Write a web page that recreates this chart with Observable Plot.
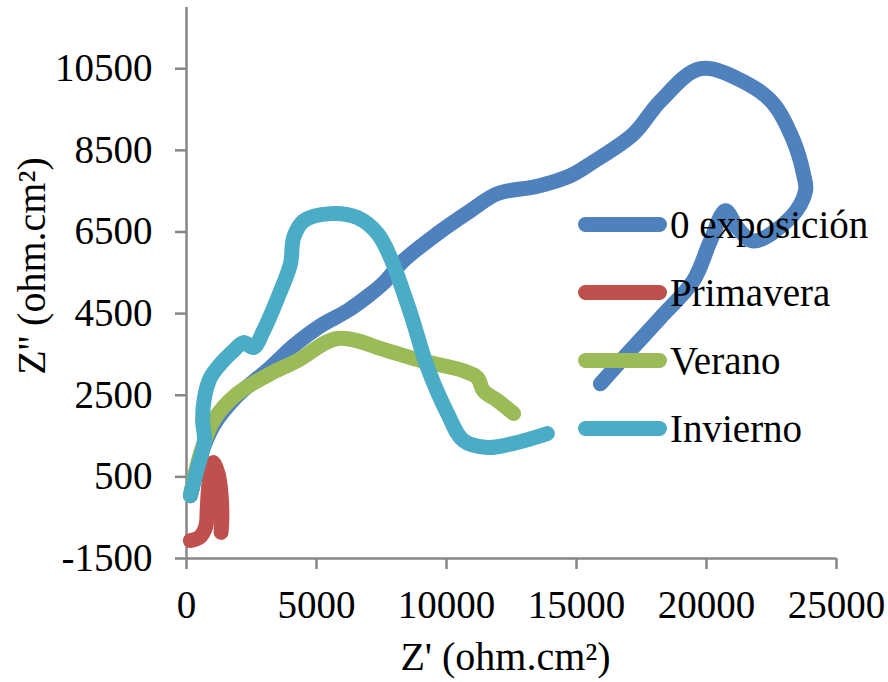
<!DOCTYPE html>
<html>
<head>
<meta charset="utf-8">
<script src="https://cdn.jsdelivr.net/npm/d3@7"></script>
<script src="https://cdn.jsdelivr.net/npm/@observablehq/plot@0.6"></script>
<style>
  html, body { margin: 0; padding: 0; background: #fff; }
  #wrap { position: relative; width: 888px; height: 682px; font-family: "Liberation Serif", "Times New Roman", serif; }
  #legend { position: absolute; left: 578px; top: 190px; }
  .row { display: flex; align-items: center; height: 68px; }
  .sw { width: 89px; height: 15px; border-radius: 7.5px; margin-right: 3px; }
  .lab { font-size: 39px; color: #000; line-height: 1; white-space: nowrap; }
</style>
</head>
<body>
<div id="wrap"></div>
<script>
// Series names and colours
const seriesNames = ["0 exposición", "Primavera", "Verano", "Invierno"];
const seriesColors = ["#4F81BD", "#C0504D", "#9BBB59", "#4BACC6"];

// 0 exposición
const exposicionX = [150, 540, 1040, 1960, 3230, 4120, 5150, 6190, 7080, 7580, 8350, 9650, 10920, 11960, 13500, 14770, 15650, 17190, 18230, 19770, 21580, 22580, 23350, 23730, 23810, 23230, 21810, 21190, 20730, 20150, 19500, 18230, 16960, 15920];
const exposicionY = [40, 1020, 1760, 2490, 3180, 3710, 4200, 4570, 4980, 5250, 5800, 6460, 7020, 7440, 7620, 7880, 8220, 8900, 9710, 10500, 10130, 9640, 8730, 7920, 7510, 6850, 6280, 6600, 7020, 6280, 5310, 4400, 3520, 2780];

// Primavera
const primaveraX = [150, 500, 740, 800, 860, 1020, 1220, 1330, 1360, 1330];
const primaveraY = [-1060, -980, -720, -250, 300, 850, 560, 60, -450, -860];

// Verano
const veranoX = [150, 540, 1040, 1960, 3230, 4270, 5810, 7730, 9000, 10650, 11190, 11420, 11960, 12580];
const veranoY = [40, 1070, 1880, 2540, 3030, 3350, 3890, 3590, 3350, 3100, 2930, 2610, 2370, 2050];

// Invierno
const inviernoX = [150, 420, 690, 620, 690, 920, 1310, 1810, 2190, 2580, 2960, 3620, 4000, 4120, 4500, 5540, 6580, 7350, 7850, 8620, 9270, 10040, 10650, 11580, 12580, 13880];
const inviernoY = [42, 700, 1390, 1880, 2440, 2930, 3270, 3590, 3790, 3670, 4080, 5060, 5720, 6360, 6770, 6950, 6850, 6460, 5870, 4500, 3180, 2050, 1390, 1220, 1320, 1560];

// Axis ticks
const xTicks = [0, 5000, 10000, 15000, 20000, 25000];
const yTicks = [-1500, 500, 2500, 4500, 6500, 8500, 10500];
const xLabel = "Z' (ohm.cm²)";
const yLabel = "Z'' (ohm.cm²)";

const seriesXs = [exposicionX, primaveraX, veranoX, inviernoX];
const seriesYs = [exposicionY, primaveraY, veranoY, inviernoY];
const data = [];
seriesNames.forEach((name, i) => {
  seriesXs[i].forEach((x, j) => data.push({series: name, x, y: seriesYs[i][j]}));
});

const axisGray = "#868686";
const lineMarks = seriesNames.map((name, i) =>
  Plot.line(data.filter(d => d.series === name), {
    x: "x", y: "y", stroke: seriesColors[i], strokeWidth: 15,
    strokeLinecap: "round", strokeLinejoin: "round", curve: "catmull-rom"
  })
);

const chart = Plot.plot({
  width: 888,
  height: 682,
  marginLeft: 186,
  marginRight: 52,
  marginTop: 7,
  marginBottom: 124,
  style: {fontFamily: "'Liberation Serif', 'Times New Roman', serif", fontSize: "39px", color: "#000", background: "#fff"},
  x: {domain: [0, 25000], ticks: xTicks},
  y: {domain: [-1500, 12000], ticks: yTicks},
  marks: [
    Plot.ruleX([0], {stroke: axisGray, strokeWidth: 2.5}),
    Plot.ruleY([-1500], {stroke: axisGray, strokeWidth: 2.5}),
    Plot.axisX({ticks: xTicks, tickSize: 11, tickPadding: 21, stroke: axisGray, strokeWidth: 2.5, fill: "#000", label: null, tickFormat: d => String(d)}),
    Plot.axisY({ticks: yTicks, tickSize: 11, tickPadding: 23, stroke: axisGray, strokeWidth: 2.5, fill: "#000", label: null, tickFormat: d => String(d)}),
    ...lineMarks,
    Plot.text([xLabel], {frameAnchor: "bottom", textAnchor: "middle", dx: -6, dy: 111, fill: "#000", fontSize: 40}),
    Plot.text([yLabel], {frameAnchor: "left", textAnchor: "middle", rotate: -90, dx: -154, dy: -17, fill: "#000", fontSize: 40})
  ]
});

const wrap = document.getElementById("wrap");
wrap.appendChild(chart);

const legend = document.createElement("div");
legend.id = "legend";
seriesNames.forEach((name, i) => {
  const row = document.createElement("div");
  row.className = "row";
  const sw = document.createElement("div");
  sw.className = "sw";
  sw.style.background = seriesColors[i];
  const lab = document.createElement("span");
  lab.className = "lab";
  lab.textContent = name;
  row.appendChild(sw);
  row.appendChild(lab);
  legend.appendChild(row);
});
wrap.appendChild(legend);
</script>
</body>
</html>
